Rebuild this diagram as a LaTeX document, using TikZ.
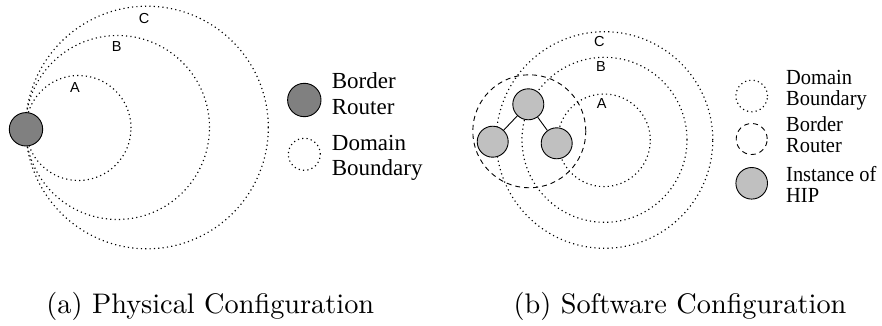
\documentclass[tikz,border=0pt]{standalone}
\usepackage{fontspec}
\newfontfamily\legendfont{Liberation Serif}
\newfontfamily\legendnarrowfont[FakeStretch=0.95]{Liberation Serif}
\newfontfamily\labelfont{Liberation Sans}
\newfontfamily\capfont{lmroman10-regular.otf}
\definecolor{routergray}{HTML}{808080}
\definecolor{hipgray}{HTML}{C0C0C0}
\begin{document}
\begin{tikzpicture}[x=1pt,y=-1pt,
  bound/.style={line width=1.15pt, dash pattern=on 1.15pt off 3.2pt},
  borderdash/.style={line width=0.9pt, dash pattern=on 5pt off 4pt},
  routernode/.style={circle, draw, line width=0.9pt, fill=routergray, inner sep=0pt, minimum size=33.4pt},
  hipnode/.style={circle, draw, line width=0.9pt, fill=hipgray, inner sep=0pt, minimum size=31pt},
  keybound/.style={circle, draw, bound, inner sep=0pt, minimum size=32pt},
  keyborder/.style={circle, draw, borderdash, inner sep=0pt, minimum size=31pt},
  ringlabel/.style={font=\labelfont\fontsize{14.5}{16}\selectfont, inner sep=0pt},
  legendtext/.style={font=\legendfont\fontsize{23}{25.5}\selectfont, align=left, inner sep=0pt, anchor=base west},
  legendnarrow/.style={font=\legendnarrowfont\fontsize{21.5}{21}\selectfont, align=left, inner sep=0pt, anchor=base west},
  captext/.style={font=\capfont\fontsize{28.3}{34}\selectfont, inner sep=0pt, anchor=base},
  link/.style={line width=0.9pt}
]
\useasboundingbox (0,0) rectangle (882,326);

% ---------- (a) physical configuration ----------
% nested domain boundaries, all touching the border router
\draw[bound] (78.5,128) circle [radius=52.5pt];
\draw[bound] (117.5,127.5) circle [radius=92pt];
\draw[bound] (147,127.5) circle [radius=121.3pt];
\node[routernode] (router) at (26,129.3) {};
\node[ringlabel] (la) at (75,87.3) {A};
\node[ringlabel] (lb) at (116.7,46.7) {B};
\node[ringlabel] (lc) at (144,18.3) {C};

% legend (text nodes are placed by the baseline of their last line)
\node[routernode] (keyrouter) at (304.3,100) {};
\node[legendtext] (keyroutertxt) at (331.7,114) {Border\\Router};
\node[keybound] (keydomain) at (304.3,154.3) {};
\node[legendtext] (keydomaintxt) at (331.7,175.5) {Domain\\Boundary};

\node[captext] (capa) at (210.3,313) {(a) Physical Configuration};

% ---------- (b) software configuration ----------
\draw[bound] (604,140.3) circle [radius=46.3pt];
\draw[bound] (604.5,139.8) circle [radius=82.5pt];
\draw[bound] (604.5,140) circle [radius=108.3pt];
\draw[borderdash] (529.3,131.3) circle [radius=56.5pt];

\node[hipnode] (hiptop) at (528.3,104.3) {};
\node[hipnode] (hipleft) at (492.7,141.7) {};
\node[hipnode] (hipright) at (556.7,143.3) {};
\draw[link] (hiptop) -- (hipleft);
\draw[link] (hiptop) -- (hipright);

\node[ringlabel] (ra) at (601.7,103.3) {A};
\node[ringlabel] (rb) at (601,66.7) {B};
\node[ringlabel] (rc) at (599.3,41.7) {C};

% legend
\node[keybound, minimum size=31.6pt] (keydomain2) at (751.7,96) {};
\node[legendnarrow] (keydomain2txt) at (786,105.7) {Domain\\Boundary};
\node[keyborder] (keyborder2) at (751.7,139) {};
\node[legendnarrow] (keyborder2txt) at (786,152.3) {Border\\Router};
\node[hipnode, minimum size=31.6pt] (keyhip) at (751.7,183.3) {};
\node[legendnarrow] (keyhiptxt) at (786,202.7) {Instance of\\HIP};

\node[captext] (capb) at (680,313) {(b) Software Configuration};
\end{tikzpicture}
\end{document}
